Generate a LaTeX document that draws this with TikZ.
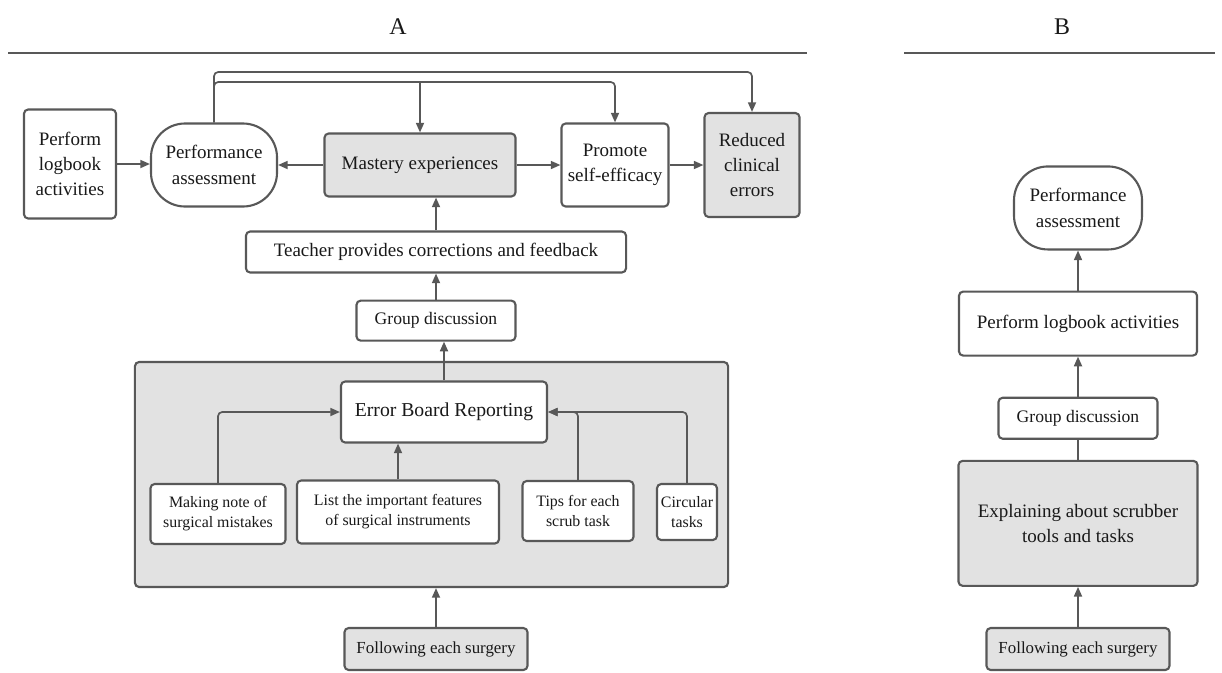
\documentclass[tikz,border=0pt]{standalone}
\usepackage{fontspec}
\setmainfont{Liberation Serif}
\usepackage{tikz}
\usetikzlibrary{arrows.meta, positioning}
\definecolor{lnc}{RGB}{88, 88, 88}
\definecolor{boxgray}{RGB}{226, 226, 226}
\definecolor{txtc}{RGB}{25, 25, 25}
\newcommand{\boxfont}{\fontsize{13.5}{18}\selectfont}
\newcommand{\tinybox}{\fontsize{11.3}{14.2}\selectfont}
\newcommand{\grpfont}{\fontsize{12.5}{15}\selectfont}

\begin{document}
\begin{tikzpicture}[x=0.025cm, y=-0.025cm,
  blk/.style={draw=lnc, fill=white, line width=1.5pt, rounded corners=3pt,
        align=center, inner sep=0pt, text=txtc, font=\boxfont},
  grayblk/.style={blk, fill=boxgray},
  oval/.style={blk, rounded corners=0.85cm},
  arr/.style={-{Triangle[length=2.4mm, width=2mm]}, draw=lnc, line width=1.2pt,
        rounded corners=3pt},
  ln/.style={draw=lnc, line width=1.2pt}]
  \useasboundingbox (0,0) rectangle (1222,672);

  % titles
  \node[font=\fontsize{17}{20}\selectfont, text=txtc] (titA) at (398,27) {A};
  \node[font=\fontsize{17}{20}\selectfont, text=txtc] (titB) at (1062,27) {B};
  \draw[ln, line width=1.6pt] (8,53) -- (807,53);
  \draw[ln, line width=1.6pt] (904,53) -- (1215,53);

  % panel A
  \node[grayblk, minimum width=14.825cm, minimum height=5.625cm] (errbox) at (431.5,474.5) {};
  \node[blk, minimum width=2.3cm, minimum height=2.725cm] (logA) at (70,164) {Perform\\logbook\\activities};
  \node[oval, minimum width=3.15cm, minimum height=2.075cm] (perfA) at (214,165) {Performance\\assessment};
  \node[grayblk, minimum width=4.775cm, minimum height=1.575cm] (mastA) at (420,165) {Mastery experiences};
  \node[blk, minimum width=2.675cm, minimum height=2.075cm] (promA) at (615,165) {Promote\\self-efficacy};
  \node[grayblk, minimum width=2.375cm, minimum height=2.6cm] (redA) at (752,165) {Reduced\\clinical\\errors};
  \node[blk, minimum width=9.5cm, minimum height=1.025cm] (teachA) at (436,252) {Teacher provides corrections and feedback};
  \node[blk, font=\grpfont, minimum width=3.975cm, minimum height=1cm, below=0.65cm of teachA] (grpA) {Group discussion};
  \node[blk, font=\fontsize{14}{17}\selectfont, minimum width=5.15cm, minimum height=1.525cm] (ebrA) at (444,412) {Error Board Reporting};
  \node[blk, font=\tinybox, minimum width=3.375cm, minimum height=1.5cm] (noteA) at (218,514) {Making note of\\surgical mistakes};
  \node[blk, font=\tinybox, minimum width=5.05cm, minimum height=1.575cm] (listA) at (398,512) {List the important features\\of surgical instruments};
  \node[blk, font=\tinybox, minimum width=2.775cm, minimum height=1.5cm] (tipsA) at (578,511) {Tips for each\\scrub task};
  \node[blk, font=\tinybox, minimum width=1.5cm, minimum height=1.4cm] (circA) at (687,512) {Circular\\tasks};
  \node[grayblk, font=\fontsize{12}{14}\selectfont, minimum width=4.575cm, minimum height=1.05cm] (follA) at (436,649) {Following each surgery};

  \coordinate (loopO) at (214,72);
  \coordinate (loopI) at (214,82);
  \draw[arr] (logA.east) -- (logA.east -| perfA.west);
  \draw[arr] (mastA) -- (perfA);
  \draw[arr] (mastA) -- (promA);
  \draw[arr] (promA) -- (redA);
  \draw[arr] (perfA.north) |- (redA.north |- loopO) -- (redA.north);
  \draw[arr] (perfA.north) |- (promA.north |- loopI) -- (promA.north);
  \draw[arr] (mastA.north |- loopI) -- (mastA.north);
  \draw[arr] (teachA.north) -- (teachA.north |- mastA.south);
  \draw[arr] (grpA.north) -- (grpA.north |- teachA.south);
  \draw[arr] (ebrA.north) -- (ebrA.north |- grpA.south);
  \draw[arr] (noteA.north) |- (ebrA.west);
  \draw[arr] (listA.north) -- (listA.north |- ebrA.south);
  \draw[arr] (tipsA.north) |- (ebrA.east);
  \draw[arr] (circA.north) |- (ebrA.east);
  \draw[arr] (follA.north) -- (follA.north |- errbox.south);

  % panel B
  \node[grayblk, font=\fontsize{12}{14}\selectfont, minimum width=4.575cm, minimum height=1.05cm] (follB) at (1078,649) {Following each surgery};
  \node[grayblk, minimum width=5.975cm, minimum height=3.125cm, above=1cm of follB] (explB) {Explaining about scrubber\\tools and tasks};
  \node[blk, font=\grpfont, minimum width=3.975cm, minimum height=1.025cm, above=0.5cm of explB] (grpB) {Group discussion};
  \node[blk, minimum width=5.95cm, minimum height=1.6cm, above=1cm of grpB] (logB) {Perform logbook activities};
  \node[oval, minimum width=3.2cm, minimum height=2.075cm, above=1cm of logB] (perfB) {Performance\\assessment};

  \draw[arr] (follB) -- (explB);
  \draw[ln] (explB) -- (grpB);
  \draw[arr] (grpB) -- (logB);
  \draw[arr] (logB) -- (perfB);
\end{tikzpicture}
\end{document}
